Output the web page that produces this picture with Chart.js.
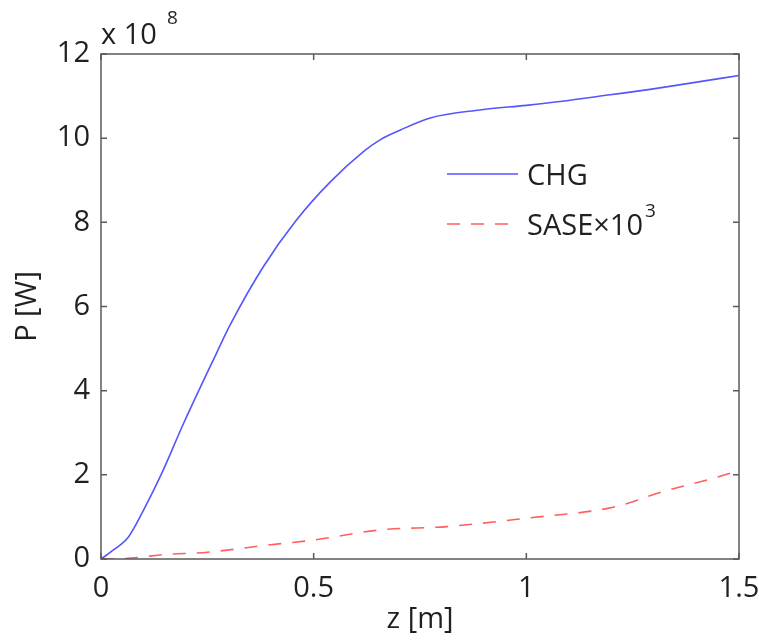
<!DOCTYPE html>
<html>
<head>
<meta charset="utf-8">
<script src="https://cdn.jsdelivr.net/npm/chart.js@4/dist/chart.umd.min.js"></script>
<style>
  html, body { margin: 0; padding: 0; background: #fff; }
  #wrap { width: 759px; height: 640px; }
</style>
</head>
<body>
<div id="wrap"><canvas id="chart"></canvas></div>
<script>
// values, P in units of 1e8 W
const chgZ    = [0, 0.03, 0.065, 0.1, 0.143, 0.194, 0.272, 0.303, 0.382, 0.46, 0.538, 0.617, 0.656, 0.703, 0.774, 0.891, 1.0, 1.079, 1.197, 1.291, 1.393, 1.5];
const chgP    = [0, 0.22, 0.53, 1.16, 2.04, 3.22, 4.9, 5.55, 6.95, 8.06, 8.95, 9.68, 9.96, 10.19, 10.48, 10.67, 10.78, 10.87, 11.03, 11.16, 11.32, 11.49];
const saseZ   = [0, 0.05, 0.1, 0.143, 0.25, 0.39, 0.5, 0.656, 0.813, 1.0, 1.204, 1.321, 1.44, 1.5];
const saseP   = [0, 0.01, 0.05, 0.1, 0.16, 0.33, 0.45, 0.69, 0.77, 0.97, 1.23, 1.6, 1.92, 2.10];
const xTicks  = [0, 0.5, 1, 1.5];
const yTicks  = [0, 2, 4, 6, 8, 10, 12];

const FONT  = "'Open Sans', sans-serif";
const INK   = "#231f20";
const FRAME = "#5a5a5a";
const BLUE  = "rgb(85, 85, 255)";
const RED   = "rgb(255, 95, 95)";

const toXY = (xs, ys) => xs.map((x, i) => ({ x, y: ys[i] }));

// MATLAB-style box, inward ticks, exponent and legend
const matlabBox = {
    id: "matlabBox",
    afterDraw(chart) {
        const { ctx, chartArea: a, scales: { x, y } } = chart;
        const tl = 6;
        ctx.save();
        ctx.strokeStyle = FRAME;
        ctx.lineWidth   = 1.5;
        ctx.strokeRect(a.left, a.top, a.right - a.left, a.bottom - a.top);

        ctx.beginPath();
        xTicks.forEach(v => {
            const px = x.getPixelForValue(v);
            ctx.moveTo(px, a.bottom); ctx.lineTo(px, a.bottom - tl);
            ctx.moveTo(px, a.top);    ctx.lineTo(px, a.top + tl);
        });
        yTicks.forEach(v => {
            const py = y.getPixelForValue(v);
            ctx.moveTo(a.left, py);  ctx.lineTo(a.left + tl, py);
            ctx.moveTo(a.right, py); ctx.lineTo(a.right - tl, py);
        });
        ctx.stroke();

        // exponent label
        ctx.fillStyle    = INK;
        ctx.textBaseline = "alphabetic";
        ctx.textAlign    = "left";
        ctx.font = `29px ${FONT}`;
        ctx.fillText("x 10", a.left, a.top - 10);
        const w = ctx.measureText("x 10").width;
        ctx.font = `19px ${FONT}`;
        ctx.fillText("8", a.left + w + 10, a.top - 30);

        // legend
        const ds = chart.data.datasets;
        const rows = [
            { d: ds[0], y: 174, text: "CHG" },
            { d: ds[1], y: 224, text: "SASE\u00d710", sup: "3" }
        ];
        rows.forEach(r => {
            ctx.beginPath();
            ctx.strokeStyle = r.d.borderColor;
            ctx.lineWidth   = r.d.borderWidth;
            ctx.setLineDash(r.d.borderDash || []);
            ctx.moveTo(447, r.y); ctx.lineTo(518, r.y);
            ctx.stroke();
            ctx.setLineDash([]);
            ctx.fillStyle    = INK;
            ctx.textBaseline = "middle";
            ctx.font = `29px ${FONT}`;
            ctx.fillText(r.text, 527, r.y + 3);
            if (r.sup) {
                const tw = ctx.measureText(r.text).width;
                ctx.font = `19px ${FONT}`;
                ctx.fillText(r.sup, 527 + tw + 2, r.y - 12);
            }
        });
        ctx.restore();
    }
};

new Chart(document.getElementById("chart"), {
    type: "scatter",
    data: {
        datasets: [
            {
                label      : "CHG",
                data       : toXY(chgZ, chgP),
                showLine   : true,
                borderColor: BLUE,
                borderWidth: 1.6,
                pointRadius: 0,
                cubicInterpolationMode: "monotone"
            },
            {
                label      : "SASE\u00d710\u00b3",
                data       : toXY(saseZ, saseP),
                showLine   : true,
                borderColor: RED,
                borderWidth: 1.6,
                borderDash : [13, 11],
                pointRadius: 0,
                cubicInterpolationMode: "monotone"
            }
        ]
    },
    options: {
        responsive         : true,
        maintainAspectRatio: false,
        animation          : false,
        layout             : { padding: { top: 54, right: 20, left: 0, bottom: 0 } },
        plugins            : { legend: { display: false }, tooltip: { enabled: false } },
        scales: {
            x: {
                type  : "linear",
                min   : 0,
                max   : 1.5,
                afterBuildTicks: s => { s.ticks = xTicks.map(v => ({ value: v })); },
                afterFit: s => { s.height = 81; s.paddingLeft = 0; s.paddingRight = 0; },
                grid  : { display: false, drawTicks: false },
                border: { display: false },
                ticks : { color: INK, padding: 12, font: { family: FONT, size: 29 }, callback: v => String(v) },
                title : {
                    display: true, text: "z [m]", color: INK,
                    padding: { top: 0, bottom: 3 },
                    font: { family: FONT, size: 29 }
                }
            },
            y: {
                type  : "linear",
                min   : 0,
                max   : 12,
                afterBuildTicks: s => { s.ticks = yTicks.map(v => ({ value: v })); },
                afterFit: s => { s.width = 101; s.paddingTop = 0; s.paddingBottom = 0; },
                grid  : { display: false, drawTicks: false },
                border: { display: false },
                ticks : { color: INK, padding: 11, font: { family: FONT, size: 29 } },
                title : {
                    display: true, text: "P [W]", color: INK,
                    padding: { top: 10, bottom: 0 },
                    font: { family: FONT, size: 29 }
                }
            }
        }
    },
    plugins: [matlabBox]
});
</script>
</body>
</html>
